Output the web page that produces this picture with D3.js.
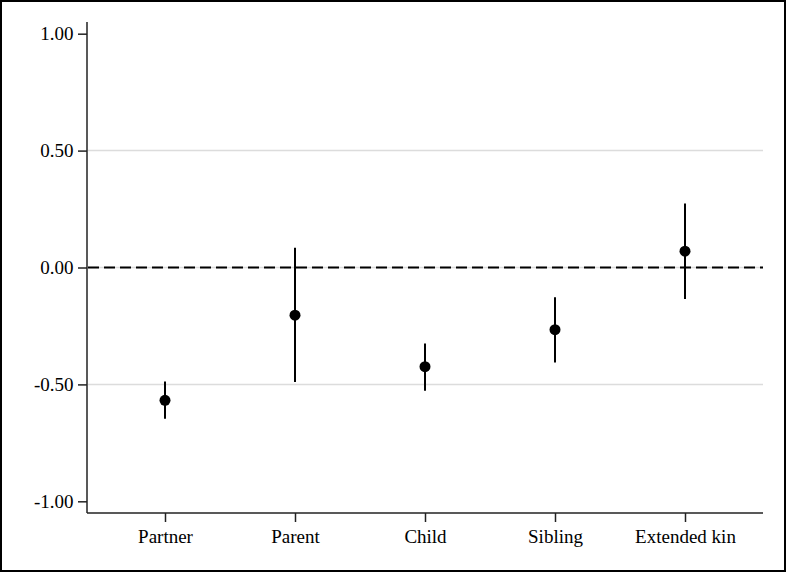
<!DOCTYPE html>
<html><head><meta charset="utf-8">
<script src="https://cdn.jsdelivr.net/npm/d3@7"></script>
<style>body{margin:0;background:#fff}svg{display:block}</style>
</head><body>
<script>
const categories = ["Partner","Parent","Child","Sibling","Extended kin"];
const estimates = [-0.568,-0.204,-0.424,-0.266,0.070];
const lower = [-0.647,-0.490,-0.527,-0.406,-0.135];
const upper = [-0.488,0.084,-0.325,-0.127,0.274];
const yTicks = [1.0,0.5,0.0,-0.5,-1.0];
const gridValues = [0.5,0.0,-0.5];

(function(){
const W=787,H=573;
const svg=d3.select("body").append("svg").attr("width",W).attr("height",H);
svg.append("rect").attr("x",1).attr("y",1).attr("width",784).attr("height",570)
  .attr("fill","#fff").attr("stroke","#000").attr("stroke-width",2);

const mL=87,mR=763,mT=22,mB=513;
const x=d3.scalePoint().domain(categories).range([mL,mR]).padding(0.6);
const y=d3.scaleLinear().domain([-1.05,1.05]).range([mB,mT]);

const font="'Liberation Serif','Times New Roman',serif";

svg.append("g").selectAll("line").data(gridValues).join("line")
  .attr("x1",mL+1).attr("x2",mR).attr("y1",d=>y(d)).attr("y2",d=>y(d))
  .attr("stroke","#dcdcdc").attr("stroke-width",1.5);

svg.append("line").attr("x1",mL+1).attr("x2",mR).attr("y1",y(0)).attr("y2",y(0))
  .attr("stroke","#000").attr("stroke-width",2).attr("stroke-dasharray","11,5");

const yAxis=d3.axisLeft(y).tickValues(yTicks).tickFormat(d=>d3.format(".2f")(d).replace("\u2212","-")).tickSize(9).tickPadding(4.5);
const gy=svg.append("g").attr("transform",`translate(${mL},0)`).call(yAxis);
const xAxis=d3.axisBottom(x).tickSize(9).tickPadding(8);
const gx=svg.append("g").attr("transform",`translate(0,${mB})`).call(xAxis);
[gx,gy].forEach(g=>{
  g.select(".domain").attr("stroke","#222").attr("stroke-width",1.5);
  g.selectAll(".tick line").attr("stroke","#222").attr("stroke-width",1.5);
  g.selectAll("text").attr("font-family",font).attr("font-size",19).attr("fill","#000");
});
gx.select(".domain").attr("d",`M${mL},0H${mR}`);
gy.select(".domain").attr("d",`M0,${mB}V${mT}`);

const data=categories.map((c,i)=>({c,e:estimates[i],lo:lower[i],hi:upper[i]}));
svg.append("g").selectAll("line").data(data).join("line")
  .attr("x1",d=>x(d.c)).attr("x2",d=>x(d.c)).attr("y1",d=>y(d.lo)).attr("y2",d=>y(d.hi))
  .attr("stroke","#000").attr("stroke-width",2);
svg.append("g").selectAll("circle").data(data).join("circle")
  .attr("cx",d=>x(d.c)).attr("cy",d=>y(d.e)).attr("r",5.5).attr("fill","#000");
})();
</script>
</body></html>
